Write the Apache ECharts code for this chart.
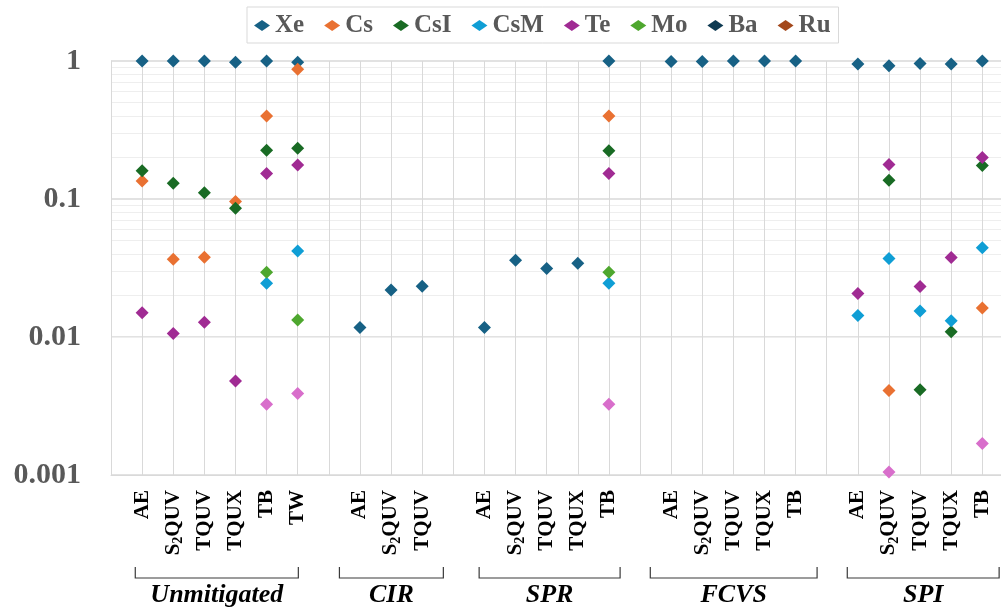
<!DOCTYPE html>
<html>
<head>
<meta charset="utf-8">
<script src="https://cdn.jsdelivr.net/npm/echarts@6/dist/echarts.min.js"></script>
<style>
  html, body { margin: 0; padding: 0; background: #ffffff; }
  #chart { width: 1001px; height: 608px; }
</style>
</head>
<body>
<div id="chart"></div>
<script>
// Accident scenario groups and the sequences inside each group
const groupNames = ['Unmitigated', 'CIR', 'SPR', 'FCVS', 'SPI'];
const groupCategories = [
  ['AE', 'S2QUV', 'TQUV', 'TQUX', 'TB', 'TW'],
  ['AE', 'S2QUV', 'TQUV'],
  ['AE', 'S2QUV', 'TQUV', 'TQUX', 'TB'],
  ['AE', 'S2QUV', 'TQUV', 'TQUX', 'TB'],
  ['AE', 'S2QUV', 'TQUV', 'TQUX', 'TB']
];
const yTickValues = [0.001, 0.01, 0.1, 1];

// Release fractions, one entry per sequence in the order above (null = no point)
//                 Unmitigated                                  CIR                       SPR                                       FCVS                       SPI
const xeValues  = [1, 1, 1, 0.98, 1, 0.98,                      0.0117, 0.0219, 0.0233,   0.0117, 0.036, 0.0313, 0.0342, 1,         0.99, 0.99, 1, 1, 1,       0.95, 0.925, 0.96, 0.95, 1];
const csValues  = [0.135, 0.0366, 0.0378, 0.096, 0.40, 0.87,    null, null, null,         null, null, null, null, 0.40,             null, null, null, null, null, null, 0.0041, null, null, 0.0162];
const csiValues = [0.16, 0.13, 0.111, 0.0856, 0.226, 0.233,     null, null, null,         null, null, null, null, 0.224,            null, null, null, null, null, null, 0.137, 0.00415, 0.0109, 0.175];
const csmValues = [null, null, null, null, 0.0245, 0.042,       null, null, null,         null, null, null, null, 0.0245,           null, null, null, null, null, 0.0143, 0.037, 0.0154, 0.0131, 0.0444];
const teValues  = [0.015, 0.0106, 0.0128, 0.0048, 0.153, 0.176, null, null, null,         null, null, null, null, 0.153,            null, null, null, null, null, 0.0207, 0.178, 0.0232, 0.0376, 0.2];
const moValues  = [null, null, null, null, 0.0294, 0.0133,      null, null, null,         null, null, null, null, 0.0294,           null, null, null, null, null, null, null, null, null, null];
const baValues  = [null, null, null, null, null, null,          null, null, null,         null, null, null, null, null,             null, null, null, null, null, null, null, null, null, null];
const ruValues  = [null, null, null, null, null, null,          null, null, null,         null, null, null, null, null,             null, null, null, null, null, null, null, null, null, null];
const otherValues = [null, null, null, null, 0.00325, 0.0039,   null, null, null,         null, null, null, null, 0.00325,          null, null, null, null, null, null, 0.00105, null, null, 0.00169];

const FONT = '"Liberation Serif", "Times New Roman", serif';
const GRID = { left: 111, right: 0, top: 61, bottom: 133 };

// Bracket overhang (axis units) on each side of every group
const bracketPad = [[0.22, 0.02], [0.66, 0.68], [0.17, 0.36], [0.67, 0.69], [0.34, 0.54]];

// Lay sequences out on a numeric axis with an empty slot before each group
const axisLabels = [''];
const casePos = [];
const groupSpan = [];
groupCategories.forEach((cats, g) => {
  if (g > 0) axisLabels.push('');
  const start = axisLabels.length;
  cats.forEach(c => { casePos.push(axisLabels.length); axisLabels.push(c); });
  groupSpan.push([start, axisLabels.length - 1]);
});

const seriesDefs = [
  { name: 'Xe',  color: '#176185', values: xeValues },
  { name: 'Cs',  color: '#E97132', values: csValues },
  { name: 'CsI', color: '#196B24', values: csiValues },
  { name: 'CsM', color: '#0F9ED5', values: csmValues },
  { name: 'Te',  color: '#A02B93', values: teValues },
  { name: 'Mo',  color: '#4EA72E', values: moValues },
  { name: 'Ba',  color: '#0E3A52', values: baValues },
  { name: 'Ru',  color: '#A3481B', values: ruValues },
  { name: 'Other', color: '#D86ECB', values: otherValues }
];
const legendNames = ['Xe', 'Cs', 'CsI', 'CsM', 'Te', 'Mo', 'Ba', 'Ru'];

// Minor gridlines for every decade of the log axis
const minorValues = [];
for (let d = 0; d < yTickValues.length - 1; d++) {
  for (let k = 2; k <= 9; k++) minorValues.push(+(yTickValues[d] * k).toPrecision(3));
}

function labelText(name) {
  if (name === 'S2QUV') return '{t|S}{s|2}{t|QUV}';
  return name ? '{t|' + name + '}' : '';
}

const series = seriesDefs.map(def => ({
  name: def.name,
  type: 'scatter',
  symbol: 'diamond',
  symbolSize: 13,
  z: 3,
  itemStyle: { color: def.color, opacity: 1 },
  emphasis: { disabled: true },
  data: def.values
    .map((v, i) => (v == null ? null : [casePos[i], v]))
    .filter(p => p !== null)
}));

series.unshift({
  name: 'minor-grid',
  type: 'scatter',
  data: [],
  z: 1,
  silent: true,
  markLine: {
    z: 1,
    silent: true,
    symbol: 'none',
    animation: false,
    label: { show: false },
    lineStyle: { color: '#eeeeee', width: 1, type: 'solid' },
    emphasis: { disabled: true },
    data: minorValues.map(v => ({ yAxis: v }))
  }
});

const chart = echarts.init(document.getElementById('chart'), null, { renderer: 'canvas' });

chart.setOption({
  animation: false,
  backgroundColor: '#ffffff',
  grid: Object.assign({ outerBoundsMode: 'none', containLabel: false }, GRID),
  legend: {
    data: legendNames,
    left: 247,
    top: 7,
    orient: 'horizontal',
    padding: [6, 8, 5, 7],
    borderColor: '#d9d9d9',
    borderWidth: 1,
    itemWidth: 16,
    itemHeight: 11,
    itemGap: 20,
    selectedMode: false,
    textStyle: { fontFamily: FONT, fontSize: 25, fontWeight: 'bold', color: '#595959' }
  },
  xAxis: {
    type: 'value',
    min: 0,
    max: 28.6,
    interval: 1,
    z: 2,
    axisLine: { show: true, lineStyle: { color: '#d9d9d9', width: 1 } },
    axisTick: { show: false },
    splitLine: { show: true, lineStyle: { color: '#d9d9d9', width: 1 } },
    axisLabel: {
      rotate: 90,
      margin: 15,
      showMinLabel: true,
      showMaxLabel: true,
      hideOverlap: false,
      formatter: v => (Number.isInteger(v) ? labelText(axisLabels[v] || '') : ''),
      rich: {
        t: { fontFamily: FONT, fontSize: 21, fontWeight: 'bold', color: '#000000', lineHeight: 24 },
        s: { fontFamily: FONT, fontSize: 14, fontWeight: 'bold', color: '#000000', lineHeight: 14, verticalAlign: 'bottom' }
      }
    }
  },
  yAxis: {
    type: 'log',
    logBase: 10,
    min: yTickValues[0],
    max: yTickValues[yTickValues.length - 1],
    z: 0,
    axisLine: { show: true, lineStyle: { color: '#d9d9d9', width: 1 } },
    axisTick: { show: false },
    splitLine: { show: true, lineStyle: { color: '#d9d9d9', width: 1.5 } },
    axisLabel: {
      margin: 30,
      fontFamily: FONT,
      fontSize: 30,
      fontWeight: 'bold',
      color: '#595959',
      formatter: v => String(+Number(v).toPrecision(1))
    }
  },
  series: series
});

// Group brackets and group titles under the sequence labels
const BRACKET_TOP = 567;
const BRACKET_BOTTOM = 578;
const TITLE_Y = 595;
const graphics = [];
groupSpan.forEach((span, g) => {
  const x0 = chart.convertToPixel({ xAxisIndex: 0 }, span[0] - bracketPad[g][0]);
  const x1 = Math.min(chart.convertToPixel({ xAxisIndex: 0 }, span[1] + bracketPad[g][1]), 999.5);
  graphics.push({
    type: 'polyline',
    silent: true,
    shape: { points: [[x0, BRACKET_TOP], [x0, BRACKET_BOTTOM], [x1, BRACKET_BOTTOM], [x1, BRACKET_TOP]] },
    style: { stroke: '#3a3a3a', lineWidth: 1.2, fill: null }
  });
  graphics.push({
    type: 'text',
    silent: true,
    x: (x0 + x1) / 2,
    y: TITLE_Y,
    style: {
      text: groupNames[g],
      fontFamily: FONT,
      fontSize: 26,
      fontWeight: 'bold',
      fontStyle: 'italic',
      fill: '#000000',
      align: 'center',
      verticalAlign: 'middle'
    }
  });
});
chart.setOption({ graphic: graphics });
</script>
</body>
</html>
